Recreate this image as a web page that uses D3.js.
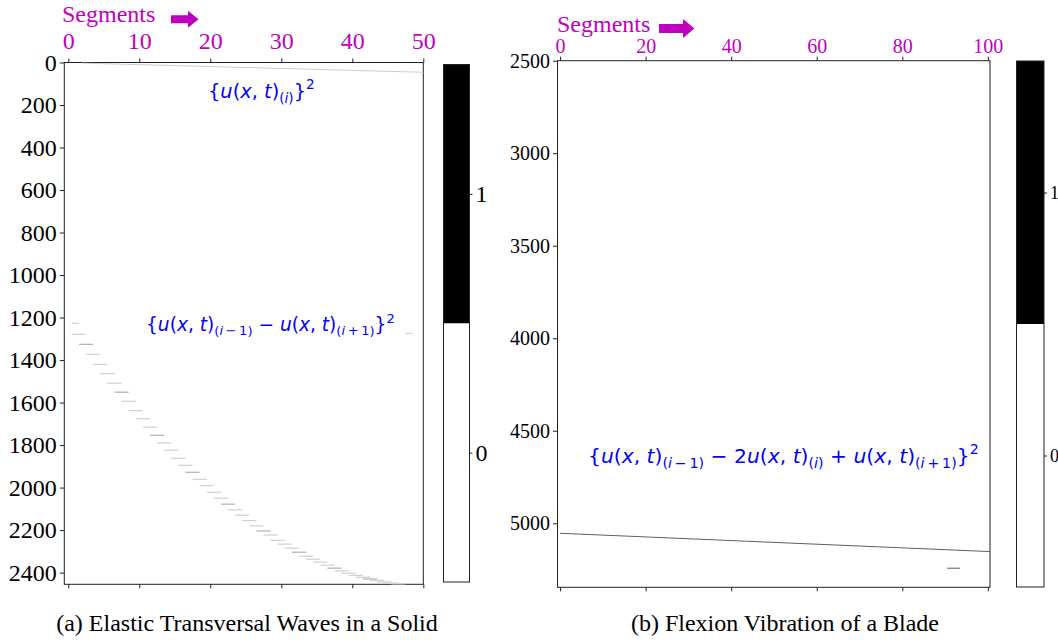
<!DOCTYPE html>
<html><head><meta charset="utf-8">
<script src="https://cdn.jsdelivr.net/npm/d3@7"></script>
<style>body{margin:0;background:#fff}</style>
</head><body>
<svg id="c" width="1058" height="640"></svg>
<script>
// ---------------- data ----------------
const segTicksA = [0, 10, 20, 30, 40, 50];
const timeTicksA = [0, 200, 400, 600, 800, 1000, 1200, 1400, 1600, 1800, 2000, 2200, 2400];
const segTicksB = [0, 20, 40, 60, 80, 100];
const timeTicksB = [2500, 3000, 3500, 4000, 4500, 5000];
const cbTicks = [0, 1];
const cbBinValues = [0, 1];
// panel (a): initial wave front (segment, time)
const waveFrontA = [[2, 3], [50, 46]];
// panel (a): time at which the reflected difference reaches segment k (k = 1, 2, ...)
const reflectTimesA = [1227, 1279, 1326, 1373, 1420, 1464, 1509, 1551, 1594, 1638,
  1676, 1716, 1754, 1790, 1824, 1862, 1895, 1928, 1961, 1991,
  2022, 2050, 2078, 2105, 2130, 2155, 2180, 2204, 2223, 2248,
  2266, 2285, 2304, 2323, 2337, 2351, 2365, 2379, 2392, 2403,
  2413, 2422, 2430, 2437, 2444, 2449, 2453];
const wrapSegA = [48];
const wrapTimeA = [1274];
// panel (b)
const flexLineB = [[0, 5054], [100.5, 5153]];
const flexDashSegB = [91, 93];
const flexDashTimeB = [5243];

// ---------------- drawing ----------------
const svg = d3.select("#c");
const MAG = "#bf00bf", BLUE = "#0000ff";
const serif = "'Liberation Serif','Times New Roman',serif";

function panel(o) {
  const g = svg.append("g");
  const x = d3.scaleLinear().domain(o.xDom).range([o.left, o.right]);
  const y = d3.scaleLinear().domain(o.yDom).range([o.top, o.bottom]);
  const ax = g.append("g").attr("transform", `translate(0,${o.top})`)
    .call(d3.axisTop(x).tickValues(o.xTicks).tickSize(4).tickPadding(o.xPad).tickFormat(d3.format("d")));
  ax.select(".domain").remove();
  ax.selectAll("line").attr("stroke", "#222");
  ax.selectAll("text").attr("fill", MAG).attr("font-family", serif).attr("font-size", o.xFs);
  const bx = g.append("g").attr("transform", `translate(0,${o.bottom})`)
    .call(d3.axisBottom(x).tickValues(o.xTicks).tickSize(4).tickFormat(""));
  bx.select(".domain").remove();
  bx.selectAll("line").attr("stroke", "#222");
  const ay = g.append("g").attr("transform", `translate(${o.left},0)`)
    .call(d3.axisLeft(y).tickValues(o.yTicks).tickSize(4.5).tickPadding(3).tickFormat(d3.format("d")));
  ay.select(".domain").remove();
  ay.selectAll("line").attr("stroke", "#222");
  ay.selectAll("text").attr("fill", "#000").attr("font-family", serif).attr("font-size", o.yFs);
  g.append("rect").attr("x", o.left).attr("y", o.top)
    .attr("width", o.right - o.left).attr("height", o.bottom - o.top)
    .attr("fill", "none").attr("stroke", "#222").attr("stroke-width", 1);
  g.append("text").attr("x", o.segX).attr("y", o.segY).attr("fill", MAG)
    .attr("font-family", serif).attr("font-size", o.segFs).text("Segments");
  const a = o.arrow; // [x0, xm, x1, cy, shaftHalf, headHalf]
  g.append("path").attr("fill", MAG).attr("d",
    `M${a[0]},${a[3]-a[4]}L${a[1]},${a[3]-a[4]}L${a[1]},${a[3]-a[5]}L${a[2]},${a[3]}L${a[1]},${a[3]+a[5]}L${a[1]},${a[3]+a[4]}L${a[0]},${a[3]+a[4]}Z`);
  g.append("text").attr("x", o.capX).attr("y", o.capY).attr("text-anchor", "middle")
    .attr("font-family", serif).attr("font-size", o.capFs).attr("fill", "#000").text(o.caption);
  const cb = d3.scaleLinear().domain([-0.5, 1.5]).range([o.cbBottom, o.cbTop]);
  const cg = g.append("g");
  cg.selectAll("rect.bin").data(cbBinValues).join("rect").attr("class", "bin")
    .attr("x", o.cbLeft).attr("width", o.cbRight - o.cbLeft)
    .attr("y", d => cb(d + 0.5)).attr("height", d => cb(d - 0.5) - cb(d + 0.5))
    .attr("fill", d => d ? "#000" : "#fff");
  cg.append("rect").attr("x", o.cbLeft).attr("y", o.cbTop)
    .attr("width", o.cbRight - o.cbLeft).attr("height", o.cbBottom - o.cbTop)
    .attr("fill", "none").attr("stroke", "#222");
  const cax = cg.append("g").attr("transform", `translate(${o.cbRight},0)`)
    .call(d3.axisRight(cb).tickValues(cbTicks).tickSize(3).tickPadding(3).tickFormat(d3.format("d")));
  cax.select(".domain").remove();
  cax.selectAll("line").attr("stroke", "#222");
  cax.selectAll("text").attr("font-family", serif).attr("font-size", o.cbFs).attr("fill", "#000");
  const plot = g.append("g");
  return { x, y, plot, g };
}

function mathText(x0, y0, fs, parts) {
  const t = svg.append("text").attr("x", x0).attr("y", y0).attr("fill", BLUE)
    .attr("font-family", "'DejaVu Sans',sans-serif").attr("font-size", fs)
    .attr("xml:space", "preserve");
  let cur = 0;
  parts.forEach(([s, f]) => {
    const sub = f.includes("b"), sup = f.includes("p");
    const off = sub ? 0.26 * fs : sup ? -0.42 * fs : 0;
    t.append("tspan").attr("dy", off - cur)
      .attr("font-size", (sub || sup) ? fs * 0.7 : fs)
      .attr("font-style", f.includes("i") ? "italic" : "normal").text(s);
    cur = off;
  });
}
const U = [["u", "i"], ["(", ""], ["x", "i"], [", ", ""], ["t", "i"], [")", ""]];
const SUBi = [["(", "b"], ["i", "ib"], [")", "b"]];
const SUBm = [["(", "b"], ["i", "ib"], ["\u2009\u2212\u20091", "b"], [")", "b"]];
const SUBp = [["(", "b"], ["i", "ib"], ["\u2009+\u20091", "b"], [")", "b"]];
const SQ = [["}", ""], ["2", "p"]];

// ---- panel (a)
const A = panel({
  xDom: [-0.56, 50], yDom: [0, 2455], left: 64.3, right: 423.3, top: 62.5, bottom: 584.3,
  xTicks: segTicksA, yTicks: timeTicksA, xFs: 24, yFs: 24, xPad: 10,
  segX: 62, segY: 22, segFs: 24, arrow: [171, 188, 198.5, 19.2, 4, 8.5],
  capX: 247, capY: 631, capFs: 24, caption: "(a) Elastic Transversal Waves in a Solid",
  cbLeft: 443.5, cbRight: 469.5, cbTop: 64.5, cbBottom: 582, cbFs: 24
});
A.plot.append("path").datum(waveFrontA)
  .attr("d", d3.line().x(d => A.x(d[0])).y(d => A.y(d[1])))
  .attr("fill", "none").attr("stroke", "#cdcdcd").attr("stroke-width", 1);
A.plot.selectAll("rect.r").data(reflectTimesA).join("rect").attr("class", "r")
  .attr("x", (t, i) => A.x(Math.max(i, 1) - 0.5))
  .attr("width", (t, i) => A.x(i + 1.5) - A.x(Math.max(i, 1) - 0.5))
  .attr("y", t => A.y(t) - 0.6).attr("height", 1.2)
  .attr("fill", (t, i) => i % 5 === 2 ? "#b0b0b0" : "#d0d0d0");
A.plot.selectAll("rect.w").data(wrapSegA).join("rect").attr("class", "w")
  .attr("x", d => A.x(d - 0.5)).attr("width", d => A.x(d + 0.5) - A.x(d - 0.5))
  .attr("y", (d, i) => A.y(wrapTimeA[i]) - 0.6).attr("height", 1.2).attr("fill", "#d0d0d0");

// ---- panel (b)
const B = panel({
  xDom: [-0.6, 100.5], yDom: [2500, 5346], left: 557.5, right: 990, top: 60.7, bottom: 587.3,
  xTicks: segTicksB, yTicks: timeTicksB, xFs: 20, yFs: 20, xPad: 3.5,
  segX: 557, segY: 32, segFs: 24, arrow: [659, 683, 694.5, 28.5, 4.5, 9.5],
  capX: 785, capY: 631, capFs: 24, caption: "(b) Flexion Vibration of a Blade",
  cbLeft: 1016.5, cbRight: 1044, cbTop: 61, cbBottom: 587, cbFs: 18
});
B.plot.append("path").datum(flexLineB)
  .attr("d", d3.line().x(d => B.x(d[0])).y(d => B.y(d[1])))
  .attr("fill", "none").attr("stroke", "#606060").attr("stroke-width", 1);
B.plot.append("rect").datum(flexDashSegB)
  .attr("x", d => B.x(d[0] - 0.5)).attr("width", d => B.x(d[1] + 0.5) - B.x(d[0] - 0.5))
  .attr("y", B.y(flexDashTimeB[0]) - 0.6).attr("height", 1.2).attr("fill", "#777");

mathText(208, 97.5, 19.4, [["{", ""], ...U, ...SUBi, ...SQ]);
mathText(146, 330.5, 18.6, [["{", ""], ...U, ...SUBm, [" \u2212 ", ""], ...U, ...SUBp, ...SQ]);
mathText(588, 462.5, 20.3, [["{", ""], ...U, ...SUBm, [" \u2212 2", ""], ...U, ...SUBi, [" + ", ""], ...U, ...SUBp, ...SQ]);
</script>
</body></html>
